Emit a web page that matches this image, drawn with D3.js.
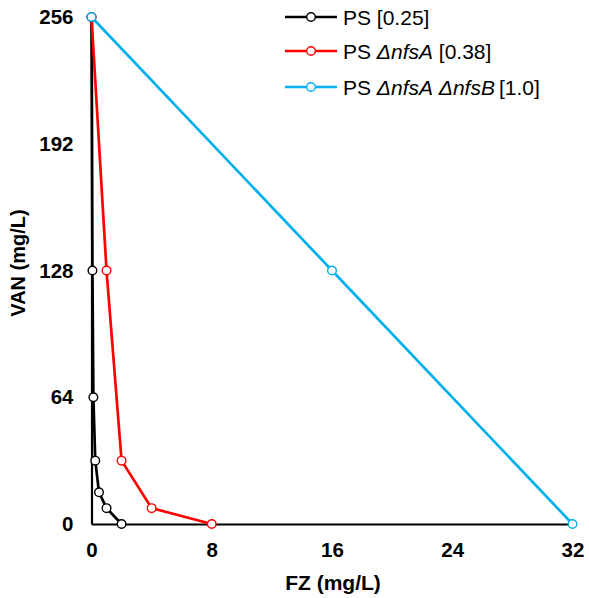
<!DOCTYPE html>
<html><head><meta charset="utf-8">
<script src="https://cdn.jsdelivr.net/npm/d3@7"></script>
<style>body{margin:0;background:#fff}svg{display:block}text{font-family:"Liberation Sans",Arial,sans-serif}</style>
</head><body><svg id="c" width="589" height="598"></svg>
<script>
const xTicks = [0, 8, 16, 24, 32];
const yTicks = [0, 64, 128, 192, 256];
const psFZ = [0, 0.0625, 0.125, 0.25, 0.5, 1, 2];
const psVAN = [256, 128, 64, 32, 16, 8, 0];
const nfsAFZ = [0, 1, 2, 4, 8];
const nfsAVAN = [256, 128, 32, 8, 0];
const nfsABFZ = [0, 16, 32];
const nfsABVAN = [256, 128, 0];
const seriesNames = [
  [{t:"PS [0.25]"}],
  [{t:"PS "},{t:"ΔnfsA",i:true},{t:" [0.38]"}],
  [{t:"PS "},{t:"ΔnfsA",i:true},{t:" "},{t:"ΔnfsB",i:true},{t:"[1.0]",dx:4}]
];
const colors = ["#000000", "#ff0000", "#00b0f0"];

const svg = d3.select("#c");
const x = d3.scaleLinear().domain([0, 32]).range([91.5, 572.5]);
const y = d3.scaleLinear().domain([0, 256]).range([524, 17]);

// axes
const xAxis = svg.append("g").attr("transform", "translate(0,524)")
  .call(d3.axisBottom(x).tickValues(xTicks).tickSize(0).tickPadding(18));
const yAxis = svg.append("g").attr("transform", "translate(91.5,0)")
  .call(d3.axisLeft(y).tickValues(yTicks).tickSize(0).tickPadding(18));
[xAxis, yAxis].forEach(a => {
  a.select(".domain").attr("stroke", "#000").attr("stroke-width", 2.2);
  a.selectAll("text").attr("font-size", 20.5).attr("font-weight", "bold").attr("fill", "#000")
    .attr("font-family", '"Liberation Sans",Arial,sans-serif');
});

svg.append("text").attr("x", 333).attr("y", 590).attr("text-anchor", "middle")
  .attr("font-size", 21).attr("font-weight", "bold").text("FZ (mg/L)");
svg.append("text").attr("transform", "translate(25,263) rotate(-90)").attr("text-anchor", "middle")
  .attr("font-size", 20).attr("font-weight", "bold").text("VAN (mg/L)");

const data = [
  psFZ.map((v, i) => [v, psVAN[i]]),
  nfsAFZ.map((v, i) => [v, nfsAVAN[i]]),
  nfsABFZ.map((v, i) => [v, nfsABVAN[i]])
];
const line = d3.line().x(d => x(d[0])).y(d => y(d[1]));
data.forEach((d, k) => {
  const g = svg.append("g");
  g.append("path").attr("d", line(d)).attr("fill", "none").attr("stroke", colors[k]).attr("stroke-width", 2.7);
  g.selectAll("circle").data(d).join("circle")
    .attr("cx", p => x(p[0])).attr("cy", p => y(p[1])).attr("r", 4.3)
    .attr("fill", "#fff").attr("stroke", colors[k]).attr("stroke-width", 1.4);
});

// legend
const legY = [17, 51, 87];
seriesNames.forEach((parts, k) => {
  const g = svg.append("g").attr("transform", `translate(0,${legY[k]})`);
  g.append("line").attr("x1", 285).attr("x2", 337).attr("stroke", colors[k]).attr("stroke-width", 2.7);
  g.append("circle").attr("cx", 311).attr("r", 4.3).attr("fill", "#fff").attr("stroke", colors[k]).attr("stroke-width", 1.4);
  const t = g.append("text").attr("x", 343).attr("y", 7.5).attr("font-size", 21).attr("fill", "#000");
  parts.forEach(p => t.append("tspan").attr("font-style", p.i ? "italic" : "normal").attr("dx", p.dx || 0).text(p.t));
});
</script></body></html>
